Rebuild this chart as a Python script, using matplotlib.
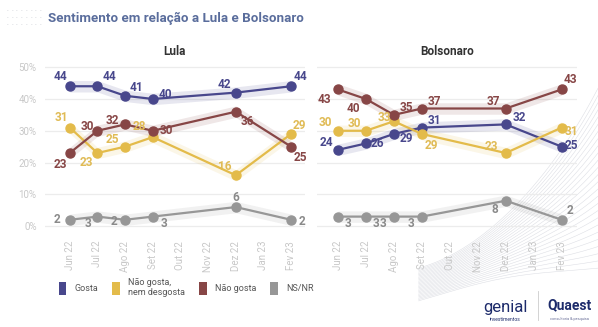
import numpy as np
import matplotlib.pyplot as plt
from matplotlib.patches import Patch

plt.rcParams['font.family'] = ['Roboto', 'DejaVu Sans']

# eixo x: meses, pesquisas em 6 deles
months = ['Jun 22', 'Jul 22', 'Ago 22', 'Set 22', 'Out 22',
          'Nov 22', 'Dez 22', 'Jan 23', 'Fev 23']
survey_idx = [0, 1, 2, 3, 6, 8]

series_names = ['Gosta', 'Não gosta,\nnem desgosta', 'Não gosta', 'NS/NR']

lula_gosta = [44, 44, 41, 40, 42, 44]
lula_neutro = [31, 23, 25, 28, 16, 29]
lula_nao_gosta = [23, 30, 32, 30, 36, 25]
lula_nsnr = [2, 3, 2, 3, 6, 2]

bolso_gosta = [24, 26, 29, 31, 32, 25]
bolso_neutro = [30, 30, 33, 29, 23, 31]
bolso_nao_gosta = [43, 40, 35, 37, 37, 43]
bolso_nsnr = [3, 3, 3, 3, 8, 2]

colors = ['#48478c', '#e3bb4a', '#874646', '#979797']
label_colors = ['#48478c', '#e0bb55', '#874646', '#8a8a8a']

# deslocamento dos rótulos (pontos)
lula_offsets = [
    [(-7, 7), (9, 7), (8, 6), (9, 3), (-8, 6), (7, 7)],
    [(-6, 7), (-8, -7), (-9, 5), (-10, 8), (-8, 6), (6, 6)],
    [(-7, -8), (-7, 3), (-9, 3), (10, 0), (8, -7), (7, -8)],
    [(-9, 0), (-7, -5), (-8, -1), (8, -5), (0, 7), (8, -1)],
]
bolso_offsets = [
    [(-8, 5), (8, 0), (9, -3), (9, 5), (10, 5), (7, 1)],
    [(-9, 6), (-8, 5), (-7, 3), (7, -8), (-10, 5), (7, -3)],
    [(-10, -7), (-9, -7), (9, 5), (9, 5), (-9, 5), (6, 7)],
    [(7, -5), (7, -5), (-8, -5), (-8, -5), (-8, -6), (6, 7)],
]

fig = plt.figure(figsize=(5.98, 3.27), dpi=100)
fig.patch.set_facecolor('white')

# linhas onduladas decorativas no canto inferior direito
bg = fig.add_axes([0, 0, 1, 1], zorder=-1)
bg.set_xlim(0, 1)
bg.set_ylim(0, 1)
bg.axis('off')
t = np.linspace(0, 1, 200)
for k in range(26):
    xs = 0.70 + 0.30 * t
    ys = 0.18 + 0.05 * np.sin(np.pi * t) + (0.55 - 0.018 * k) * t ** 2.2 \
        - 0.004 * k
    bg.plot(xs, ys, color='#d5d7de', lw=0.4, alpha=0.8)

fig.text(0.08, 0.945, 'Sentimento em relação a Lula e Bolsonaro',
         fontsize=9.6, fontweight='bold', color='#5a6d9c', va='center')
# pontinhos decorativos ao lado do titulo
for r in range(3):
    for c in range(8):
        fig.text(0.012 + c * 0.008, 0.965 - r * 0.022, '·', fontsize=5,
                 color='#b9bcc8', ha='center', va='center')

panels = [
    ('Lula', [lula_gosta, lula_neutro, lula_nao_gosta, lula_nsnr],
     lula_offsets, [0.075, 0.289, 0.435, 0.525], (-0.9, 8.5)),
    ('Bolsonaro', [bolso_gosta, bolso_neutro, bolso_nao_gosta, bolso_nsnr],
     bolso_offsets, [0.530, 0.289, 0.435, 0.525], (-0.75, 8.55)),
]

for k, (name, data, offsets, rect, xlim) in enumerate(panels):
    ax = fig.add_axes(rect)
    ax.patch.set_alpha(0)
    x = np.array(survey_idx)
    for i, vals in enumerate(data):
        v = np.array(vals)
        ax.fill_between(x, v - 1.8, v + 1.8, color=colors[i], alpha=0.13,
                        lw=0, zorder=1)
        ax.plot(x, v, color=colors[i], lw=1.6, marker='o', ms=6.5,
                zorder=3)
        for j, val in enumerate(vals):
            dx, dy = offsets[i][j]
            ax.annotate(str(val), (x[j], val), xytext=(dx, dy),
                        textcoords='offset points', ha='center',
                        va='center', fontsize=8.5, fontweight='bold',
                        color=label_colors[i], zorder=4)
    ax.set_xlim(*xlim)
    ax.set_ylim(-2, 52)
    ax.set_yticks([0, 10, 20, 30, 40, 50])
    ax.set_xticks(range(len(months)))
    ax.set_xticklabels(months, rotation=90, fontsize=7, color='#c8c8c8')
    if k == 0:
        ax.set_yticklabels(['0%', '10%', '20%', '30%', '40%', '50%'],
                           fontsize=7, color='#c8c8c8')
    else:
        ax.set_yticklabels([])
    ax.tick_params(length=0, pad=6)
    ax.grid(axis='y', color='#ececec', lw=0.9)
    ax.set_axisbelow(True)
    for s in ax.spines.values():
        s.set_visible(False)
    ax.set_title(name, fontsize=8.5, fontweight='bold', color='#333333',
                 pad=4)

handles = [Patch(facecolor=c, edgecolor='none') for c in colors]
fig.legend(handles, series_names, loc='center left',
           bbox_to_anchor=(0.085, 0.12), ncol=4, frameon=False,
           fontsize=6.5, handlelength=0.8, handleheight=1.9,
           columnspacing=1.6, handletextpad=0.9, labelcolor='#555555')

# logos
fig.text(0.845, 0.06, 'genial', fontsize=12, color='#1d2b6b',
         ha='center', va='center')
fig.text(0.845, 0.022, 'investimentos', fontsize=3.5, color='#1d2b6b',
         ha='center', va='center')
fig.add_artist(plt.Line2D([0.9, 0.9], [0.02, 0.11], color='#cccccc',
                          lw=0.6))
fig.text(0.952, 0.065, 'Quaest', fontsize=10, fontweight='bold',
         color='#1d2b6b', ha='center', va='center')
fig.text(0.952, 0.025, 'consultoria & pesquisa', fontsize=2.8,
         color='#6b7099', ha='center', va='center')

fig.savefig('out.png', dpi=100)
